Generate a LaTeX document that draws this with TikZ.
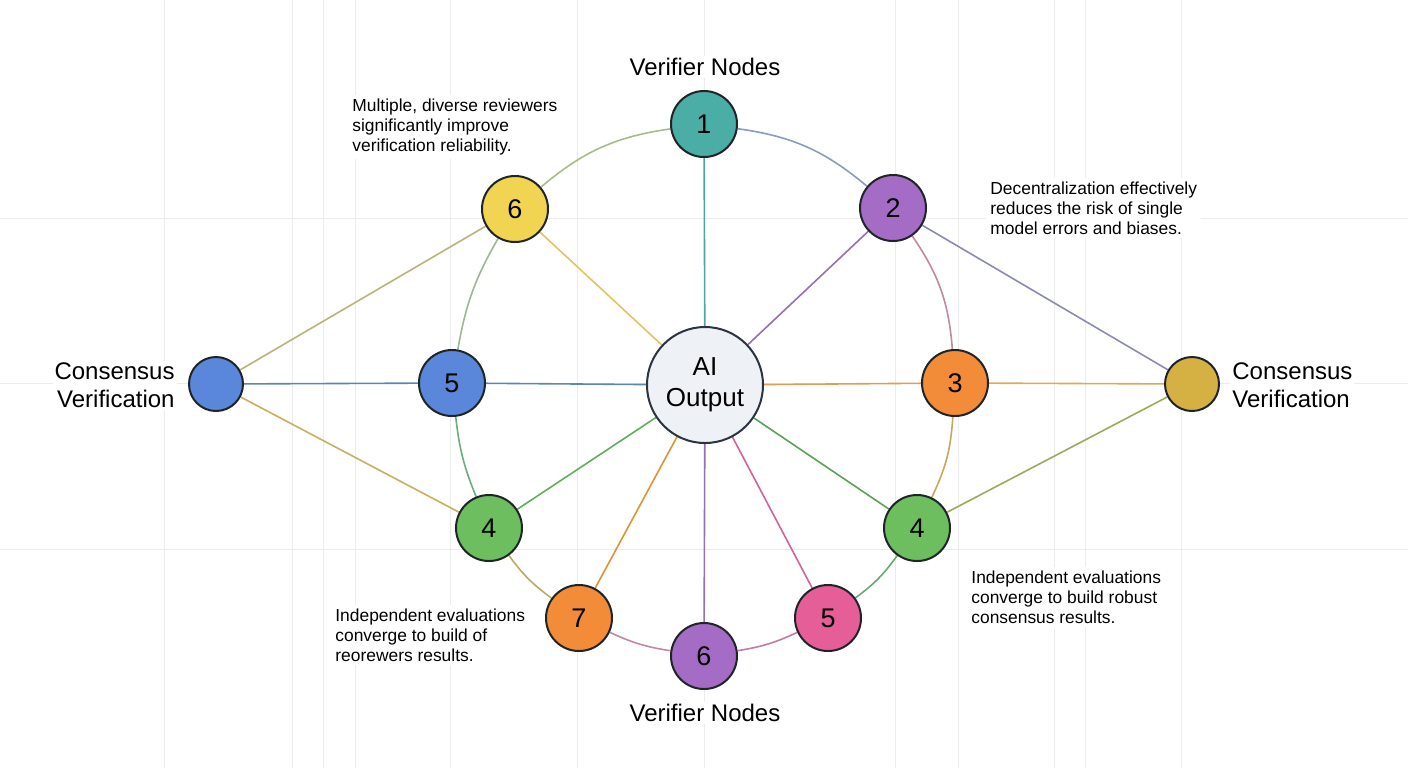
\documentclass[tikz,border=0pt]{standalone}
\usepackage{fontspec}
\setmainfont{Liberation Sans}
\usetikzlibrary{backgrounds}
\definecolor{ink}{HTML}{1E2428}
\definecolor{gridc}{HTML}{ECECEC}
\definecolor{cteal}{HTML}{4AADA6}
\definecolor{cpurple}{HTML}{A56CC6}
\definecolor{cyellow}{HTML}{F1D452}
\definecolor{cblue}{HTML}{5A87D9}
\definecolor{corange}{HTML}{F28C38}
\definecolor{cgreen}{HTML}{6CBE5E}
\definecolor{cpink}{HTML}{E55E98}
\definecolor{cgold}{HTML}{D5B043}
\definecolor{aifill}{HTML}{EEF1F5}
\definecolor{aiedge}{HTML}{2C3440}
\definecolor{eTeal}{HTML}{4AA6A2}
\definecolor{eYel}{HTML}{E2C466}
\definecolor{ePur}{HTML}{9670B4}
\definecolor{eBlu}{HTML}{5B88B0}
\definecolor{eOra}{HTML}{DDA050}
\definecolor{eGrn}{HTML}{62AE5E}
\definecolor{eOrb}{HTML}{DE9436}
\definecolor{ePnk}{HTML}{D0649C}
\definecolor{eGrd}{HTML}{5CA05A}
\definecolor{aTY}{HTML}{A8BC8A}
\definecolor{aTP}{HTML}{8A9CB8}
\definecolor{aYB}{HTML}{9CB894}
\definecolor{aPO}{HTML}{C08C98}
\definecolor{aBG}{HTML}{6DAE7C}
\definecolor{aOG}{HTML}{C8A860}
\definecolor{aGO}{HTML}{BDAA62}
\definecolor{aGG}{HTML}{6AA870}
\definecolor{aOP}{HTML}{C08AA8}
\definecolor{aPP}{HTML}{C878A8}
\definecolor{lY}{HTML}{B8B47C}
\definecolor{lG}{HTML}{C8B060}
\definecolor{rP}{HTML}{8A8AB2}
\definecolor{rO}{HTML}{DDAA55}
\definecolor{rG}{HTML}{A0A85C}
\begin{document}
\begin{tikzpicture}[x=0.5pt,y=-0.5pt,
  vnode/.style={circle,draw=ink,line width=1pt,minimum size=33pt,inner sep=0pt,font=\fontsize{13.5}{14}\selectfont},
  cnode/.style={circle,draw=ink,line width=1pt,minimum size=27pt,inner sep=0pt},
  note/.style={fill=white,inner sep=2pt,align=left,anchor=west,font=\fontsize{8.7}{10}\selectfont},
  title/.style={fill=white,inner sep=1pt,font=\fontsize{12}{14}\selectfont},
  link/.style={line width=0.8pt},
  gridline/.style={draw=gridc,line width=0.5pt}]
\useasboundingbox (0,0) rectangle (1408,768);

% nodes
\node[circle,draw=aiedge,fill=aifill,line width=1pt,minimum size=58pt,inner sep=0pt,align=center,font=\fontsize{13}{15.5}\selectfont] (ai) at (705,385) {AI\\Output};
\node[vnode,fill=cteal] (n1) at (704,124) {1};
\node[vnode,fill=cpurple] (n2) at (893,208) {2};
\node[vnode,fill=cyellow] (n6y) at (515,209) {6};
\node[vnode,fill=cblue] (n5l) at (452,383) {5};
\node[vnode,fill=corange] (n3) at (955,383) {3};
\node[vnode,fill=cgreen] (n4l) at (489,528) {4};
\node[vnode,fill=cgreen] (n4r) at (917,528) {4};
\node[vnode,fill=corange] (n7) at (579,618) {7};
\node[vnode,fill=cpurple] (n6b) at (704,656) {6};
\node[vnode,fill=cpink] (n5p) at (828,618) {5};
\node[cnode,fill=cblue] (cl) at (216,384) {};
\node[cnode,fill=cgold] (cr) at (1192,384) {};

% labels
\node[title] (vt) at (705,67) {Verifier Nodes};
\node[title] (vb) at (705,713) {Verifier Nodes};
\node[title,align=right,anchor=east] (cll) at (177,385) {Consensus\\Verification};
\node[title,align=left,anchor=west] (crl) at (1230,385) {Consensus\\Verification};
\node[note] (t1) at (348,127) {Multiple, diverse reviewers\\significantly improve\\verification reliability.};
\node[note] (t2) at (986,208) {Decentralization effectively\\reduces the risk of single\\model errors and biases.};
\node[note] (t3) at (331,635) {Independent evaluations\\converge to build of\\reorewers results.};
\node[note] (t4) at (967,597) {Independent evaluations\\converge to build robust\\consensus results.};

\begin{pgfonlayer}{background}
\fill[white] (0,0) rectangle (1408,768);
\foreach \x in {164,292,323,355,450,577,704,895,958,1054,1085,1181}
  \draw[gridline] (\x,0) -- (\x,768);
\foreach \y in {218,383,549}
  \draw[gridline] (0,\y) -- (1408,\y);
% spokes
\draw[link,eTeal] (ai) -- (n1);
\draw[link,ePur] (ai) -- (n2);
\draw[link,eYel] (ai) -- (n6y);
\draw[link,eBlu] (ai) -- (n5l);
\draw[link,eOra] (ai) -- (n3);
\draw[link,eGrn] (ai) -- (n4l);
\draw[link,eGrd] (ai) -- (n4r);
\draw[link,eOrb] (ai) -- (n7);
\draw[link,ePur] (ai) -- (n6b);
\draw[link,ePnk] (ai) -- (n5p);
% ring arcs
\draw[link,aPO] (n3) to[bend right=15] (n2);
\draw[link,aTP] (n2) to[bend right=16] (n1);
\draw[link,aTY] (n1) to[bend right=16] (n6y);
\draw[link,aYB] (n6y) to[bend right=10] (n5l);
\draw[link,aBG] (n5l) to[bend right=8] (n4l);
\draw[link,aGO] (n4l) to[bend right=9] (n7);
\draw[link,aOP] (n7) to[bend right=8] (n6b);
\draw[link,aPP] (n6b) to[bend right=8] (n5p);
\draw[link,aGG] (n5p) to[bend right=9] (n4r);
\draw[link,aOG] (n4r) to[bend right=11] (n3);
% consensus links
\draw[link,lY] (cl) -- (n6y);
\draw[link,eBlu] (cl) -- (n5l);
\draw[link,lG] (cl) -- (n4l);
\draw[link,rP] (cr) -- (n2);
\draw[link,rO] (cr) -- (n3);
\draw[link,rG] (cr) -- (n4r);
\end{pgfonlayer}
\end{tikzpicture}
\end{document}
